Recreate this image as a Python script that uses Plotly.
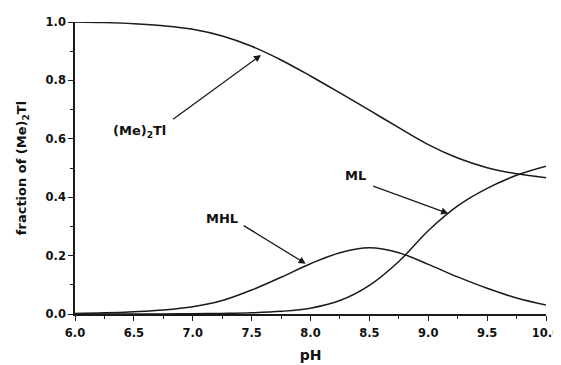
import plotly.graph_objects as go

ph = [6.0, 6.25, 6.5, 6.75, 7.0, 7.25, 7.5, 7.75, 8.0, 8.25, 8.5, 8.75, 9.0, 9.25, 9.5, 9.75, 10.0]
me2tl = [1.0, 0.998, 0.994, 0.987, 0.975, 0.952, 0.917, 0.870, 0.815, 0.757, 0.698, 0.638, 0.580, 0.534, 0.501, 0.480, 0.467]
mhl = [0.002, 0.004, 0.008, 0.014, 0.025, 0.046, 0.082, 0.126, 0.172, 0.210, 0.227, 0.210, 0.170, 0.127, 0.088, 0.055, 0.031]
ml = [0.0, 0.0, 0.0, 0.0, 0.001, 0.002, 0.004, 0.009, 0.020, 0.046, 0.098, 0.180, 0.285, 0.370, 0.430, 0.475, 0.506]

x_ticks = [6.0, 6.5, 7.0, 7.5, 8.0, 8.5, 9.0, 9.5, 10.0]
y_ticks = [0.0, 0.2, 0.4, 0.6, 0.8, 1.0]

# label: (text x, text y, arrow tail x, tail y, tip x, tip y) in data units
labels = {
    "(Me)<sub>2</sub>Tl": (6.55, 0.625, 6.82, 0.663, 7.58, 0.887),
    "MHL": (7.25, 0.326, 7.42, 0.306, 7.96, 0.172),
    "ML": (8.385, 0.474, 8.52, 0.44, 9.17, 0.344),
}

FAM = "DejaVu Sans, Liberation Sans, Arial, sans-serif"
line_col = "#1a1a1a"
txt_col = "#111"

fig = go.Figure()
for ys in (me2tl, mhl, ml):
    fig.add_trace(go.Scatter(x=ph, y=ys, mode="lines",
                             line=dict(color=line_col, width=1.5, shape="spline", smoothing=1.0),
                             showlegend=False, hoverinfo="skip", cliponaxis=False))

for txt, (tx, ty, ax0, ay0, hx, hy) in labels.items():
    fig.add_annotation(x=tx, y=ty, text=txt, showarrow=False,
                       font=dict(family=FAM, size=13, color=txt_col, weight="bold"),
                       xref="x", yref="y")
    fig.add_annotation(x=hx, y=hy, ax=ax0, ay=ay0, axref="x", ayref="y",
                       xref="x", yref="y", text="", showarrow=True,
                       arrowhead=2, arrowsize=1.1, arrowwidth=1.3, arrowcolor=line_col)

# page body adds an 8px offset, so the figure is sized to fit the remaining window
fig.update_layout(
    width=553, height=357,
    margin=dict(l=67, r=15, t=14, b=51),
    paper_bgcolor="white", plot_bgcolor="white",
    font=dict(family=FAM, size=12, color=txt_col, weight="bold"),
)
tickfont = dict(family=FAM, size=11.5, color=txt_col, weight="bold")
fig.update_xaxes(range=[6.0, 10.0], tickvals=x_ticks, ticktext=[f"{v:.1f}" for v in x_ticks],
                 showline=True, linecolor=line_col, linewidth=1.5, mirror=False,
                 ticks="outside", ticklen=5, tickwidth=1.2, tickcolor=line_col,
                 ticklabelstandoff=2,
                 minor=dict(dtick=0.25, ticks="outside", ticklen=3, tickcolor=line_col, tickwidth=1),
                 showgrid=False, zeroline=False, automargin=False,
                 tickfont=tickfont,
                 title=dict(text="pH", standoff=12,
                            font=dict(family=FAM, size=14, color=txt_col, weight="bold")))
fig.update_yaxes(range=[0.0, 1.0], tickvals=y_ticks, ticktext=[f"{v:.1f}" for v in y_ticks],
                 showline=True, linecolor=line_col, linewidth=1.5, mirror=False,
                 ticks="outside", ticklen=5, tickwidth=1.2, tickcolor=line_col,
                 minor=dict(dtick=0.1, ticks="outside", ticklen=3, tickcolor=line_col, tickwidth=1),
                 showgrid=False, zeroline=False, automargin=False,
                 tickfont=tickfont,
                 title=dict(text="fraction of (Me)<sub>2</sub>Tl", standoff=16,
                            font=dict(family=FAM, size=13, color=txt_col, weight="bold")))

fig.write_html("out.html")
